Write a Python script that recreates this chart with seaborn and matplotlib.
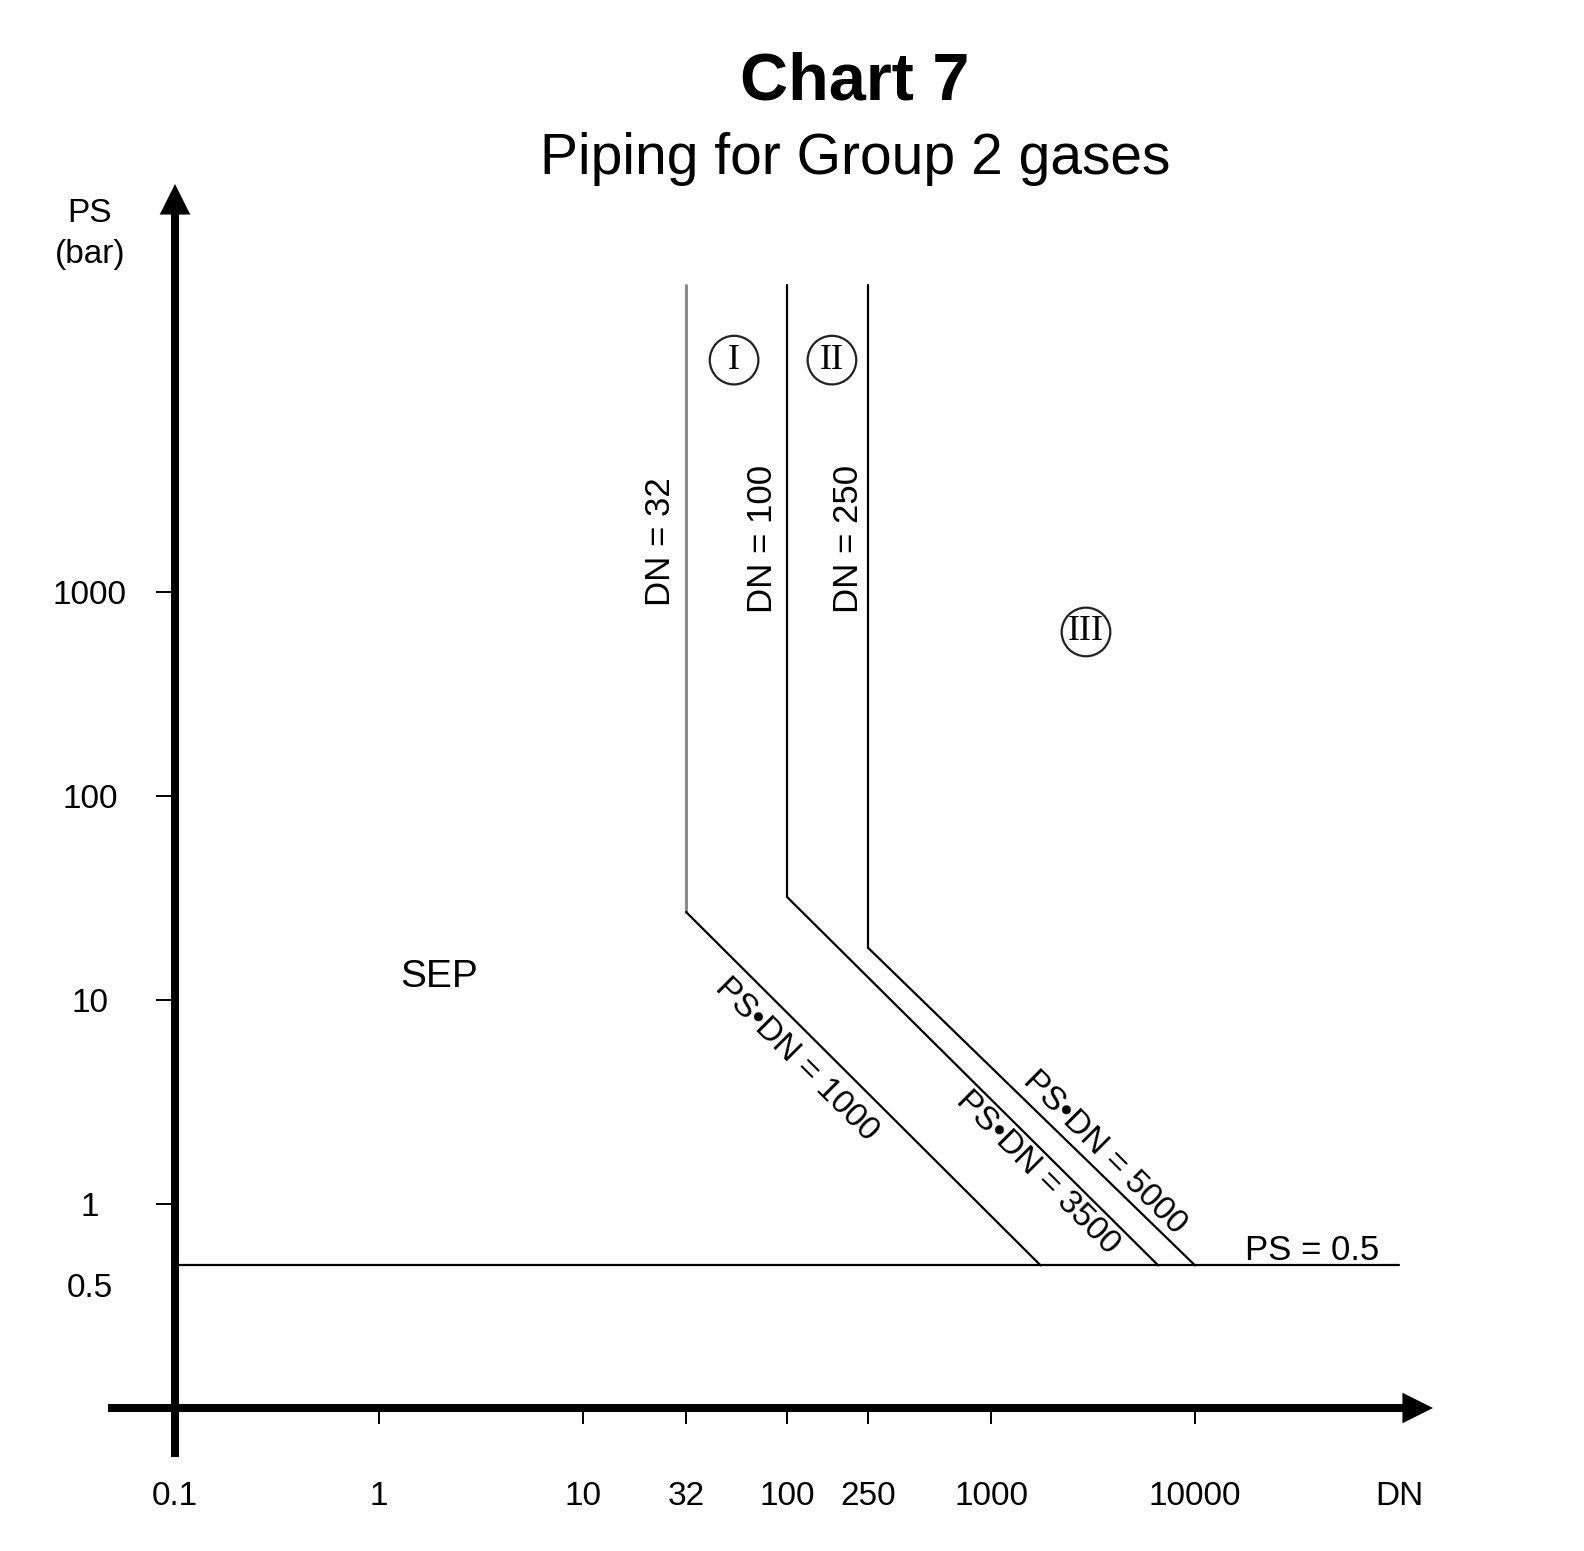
import numpy as np
import pandas as pd
import matplotlib
matplotlib.use('Agg')
import matplotlib.pyplot as plt
import seaborn as sns

sns.set_theme(style='white')
plt.rcParams['font.family'] = ['Liberation Sans', 'DejaVu Sans']
plt.rcParams.update({'text.color': 'black', 'xtick.color': 'black',
                     'ytick.color': 'black', 'axes.labelcolor': 'black'})

# ------------------------------------------------------------
# Chart data
# ------------------------------------------------------------
boundary_dn   = [32, 100, 250]          # vertical limits DN = ...
bend_ps       = [27, 32, 18]            # PS where each limit turns into PS*DN
floor_dn      = [1750, 6600, 10000]     # DN where the PS*DN lines hit PS = 0.5
products      = [1000, 3500, 5000]      # PS*DN labels
top_ps        = 32000                   # upper end of vertical limits
ps_floor      = 0.5
floor_span    = [0.1, 100000]

x_ticks       = [0.1, 1, 10, 32, 100, 250, 1000, 10000, 100000]
x_tick_labels = ['0.1', '1', '10', '32', '100', '250', '1000', '10000', 'DN']
y_ticks       = [1, 10, 100, 1000]
y_tick_labels = ['1', '10', '100', '1000']

zones    = ['I', 'II', 'III']
zone_dn  = [55, 166, 2920]
zone_ps  = [13700, 13700, 637]

# ------------------------------------------------------------
# Segments table for seaborn
# ------------------------------------------------------------
rows = []
for dn, bp, fd in zip(boundary_dn, bend_ps, floor_dn):
    rows.append({'seg': f'v{dn}', 'DN': dn, 'PS': top_ps})
    rows.append({'seg': f'v{dn}', 'DN': dn, 'PS': bp})
    rows.append({'seg': f'd{dn}', 'DN': dn, 'PS': bp})
    rows.append({'seg': f'd{dn}', 'DN': fd, 'PS': ps_floor})
for dn in floor_span:
    rows.append({'seg': 'floor', 'DN': dn, 'PS': ps_floor})
seg_df = pd.DataFrame(rows)
palette = {s: 'black' for s in seg_df['seg'].unique()}
palette['v32'] = '#8a8a8a'

# ------------------------------------------------------------
# Figure
# ------------------------------------------------------------
W, H = 1584, 1551
fig = plt.figure(figsize=(W / 100, H / 100), dpi=100)
ax = fig.add_axes([175 / W, (H - 1408) / H, 1260 / W, 1224 / H])
ax.set_xscale('log')
ax.set_yscale('log')

sns.lineplot(data=seg_df, x='DN', y='PS', hue='seg', palette=palette,
             estimator=None, sort=False, legend=False, lw=1.6, ax=ax)
ax.lines[0].set_linewidth(2.2)

ax.set_xlim(0.1, 1.5e5)
ax.set_ylim(0.1, 1e5)
for s in ax.spines.values():
    s.set_visible(False)
ax.set_xlabel('')
ax.set_ylabel('')

ax.minorticks_off()
ax.set_xticks(x_ticks, x_tick_labels)
ax.set_yticks(y_ticks, y_tick_labels)
ax.tick_params(axis='x', direction='out', length=11.5, width=1.4, pad=41,
               labelsize=24, colors='black', bottom=True)
ax.tick_params(axis='y', direction='out', length=13.7, width=1.4, pad=47.5,
               labelsize=24, colors='black', left=True)
for lab in ax.get_yticklabels():
    lab.set_horizontalalignment('center')
xt = ax.xaxis.get_major_ticks()
xt[0].tick1line.set_visible(False)
xt[-1].tick1line.set_visible(False)

# thick axis lines with arrow heads
ax.plot([-0.053, 0.98], [0, 0], transform=ax.transAxes, color='black',
        lw=5.8, solid_capstyle='butt', clip_on=False, zorder=5)
ax.plot([0, 0], [-0.040, 0.98], transform=ax.transAxes, color='black',
        lw=5.8, solid_capstyle='butt', clip_on=False, zorder=5)
head = dict(arrowstyle='-|>,head_length=1.1,head_width=0.55', mutation_scale=20,
            lw=0, fc='black', ec='black', shrinkA=0, shrinkB=0)
ax.annotate('', xy=(0.9984, 0), xytext=(0.9, 0), xycoords='axes fraction',
            arrowprops=head, annotation_clip=False, zorder=6)
ax.annotate('', xy=(0, 1.0), xytext=(0, 0.9), xycoords='axes fraction',
            arrowprops=head, annotation_clip=False, zorder=6)

# extra axis texts
ax.annotate('0.5', xy=(0, ps_floor), xycoords=('axes fraction', 'data'),
            xytext=(-61, -16.5), textcoords='offset points',
            ha='center', va='center', fontsize=24)
fig.text(90 / W, 1 - 213 / H, 'PS', ha='center', va='center', fontsize=24)
fig.text(90 / W, 1 - 255 / H, '(bar)', ha='center', va='center', fontsize=24)

# limit labels
for dn, (lx, ly) in zip(boundary_dn, [(24.1, 1758), (75.4, 1820), (199, 1820)]):
    ax.text(lx, ly, f'DN = {dn}', rotation=90, ha='center', va='center',
            fontsize=25)
for p, (lx, ly) in zip(products, [(111, 5.08), (1700, 1.42), (3620, 1.78)]):
    ax.text(lx, ly, f'PS\u2022DN = {p}', rotation=-45, rotation_mode='anchor',
            ha='center', va='center', fontsize=24)
ax.annotate(f'PS = {ps_floor}', xy=(37500, ps_floor), xytext=(0, 4),
            textcoords='offset points', ha='center', va='baseline', fontsize=25)
ax.text(1.97, 13, 'SEP', ha='center', va='center', fontsize=28)

# category circles
ax.scatter(zone_dn, zone_ps, s=1225, facecolors='none', edgecolors='#222222',
           linewidths=1.6, zorder=4)
for z, dn, ps in zip(zones, zone_dn, zone_ps):
    ax.text(dn, ps, z, ha='center', va='center', fontsize=26,
            family=['Liberation Serif', 'DejaVu Serif'], zorder=5)

# titles
fig.text(855 / W, 1 - 99 / H, 'Chart 7', ha='center', va='baseline',
         fontsize=48, fontweight='bold')
fig.text(855 / W, 1 - 174 / H, 'Piping for Group 2 gases', ha='center',
         va='baseline', fontsize=41)

fig.savefig('out.png', dpi=100, facecolor='white')
